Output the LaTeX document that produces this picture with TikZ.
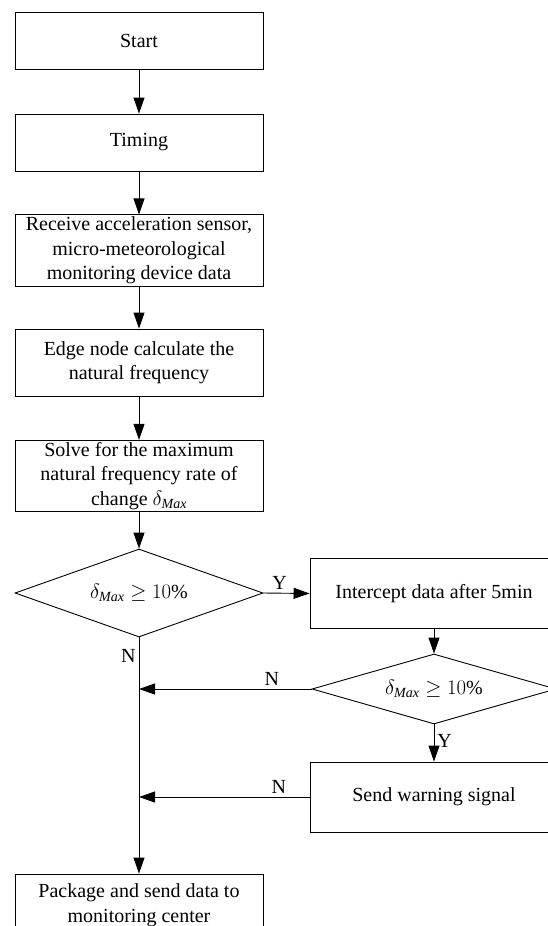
\documentclass[tikz,border=0pt]{standalone}
\usepackage{fontspec}
\setmainfont{Liberation Serif}
\usetikzlibrary{positioning,arrows.meta,shapes.geometric}

\begin{document}
\begin{tikzpicture}[x=1pt,y=-1pt,
  font=\fontsize{20}{24.5}\selectfont,
  line width=0.9pt,
  box/.style={draw,minimum width=248pt,align=center,inner sep=2pt},
  dec/.style={draw,diamond,aspect=3.5,inner sep=0pt,align=center},
  lbl/.style={inner sep=3pt},
  >={Triangle[length=16pt,width=11pt]}]
  \useasboundingbox (0,0) rectangle (548,926);
  % main column
  \node[box,minimum height=57pt] (start) at (139,40.5) {Start};
  \node[box,minimum height=57pt] (timing) at (139,142.5) {Timing};
  \node[box,minimum height=67pt] (recv) at (139,250.5)
    {Receive acceleration sensor,\\micro-meteorological\\monitoring device data};
  \node[box,minimum height=67pt] (edge) at (139,362.5)
    {Edge node calculate the\\natural frequency};
  \node[box,minimum height=70pt] (solve) at (139,476)
    {Solve for the maximum\\natural frequency rate of\\change $\delta_{\mathit{Max}}$};
  \node[dec,minimum width=248pt,minimum height=88pt] (chk1) at (139,593)
    {$\delta_{\mathit{Max}}\geq 10\%$};
  \node[box,minimum height=62pt] (pack) at (139,905)
    {Package and send data to\\monitoring center};
  % right column
  \node[box,minimum height=70pt] (icpt) at (434,593.5) {Intercept data after 5min};
  \node[dec,minimum width=244pt,minimum height=70pt] (chk2) at (434,689)
    {$\delta_{\mathit{Max}}\geq 10\%$};
  \node[box,minimum height=70pt] (warn) at (434,797) {Send warning signal};
  % junctions on the main line
  \coordinate (j1) at (chk1.south |- chk2.west);
  \coordinate (j2) at (chk1.south |- warn.west);
  % arrows
  \draw[->] (start) -- (timing);
  \draw[->] (timing) -- (recv);
  \draw[->] (recv) -- (edge);
  \draw[->] (edge) -- (solve);
  \draw[->] (solve) -- (chk1);
  \draw[->] (chk1.east) -- node[lbl,above,pos=0.35]{Y} (icpt.west);
  \draw[->] (chk1.south) -- node[lbl,left,pos=0.08]{N} (pack.north);
  \draw[->] (icpt) -- (chk2);
  \draw[->] (chk2.south) -- node[lbl,right,pos=0.45]{Y} (warn.north);
  \draw[->] (chk2.west) -- node[lbl,above,pos=0.23]{N} (j1);
  \draw[->] (warn.west) -- node[lbl,above,pos=0.18]{N} (j2);
\end{tikzpicture}
\end{document}
